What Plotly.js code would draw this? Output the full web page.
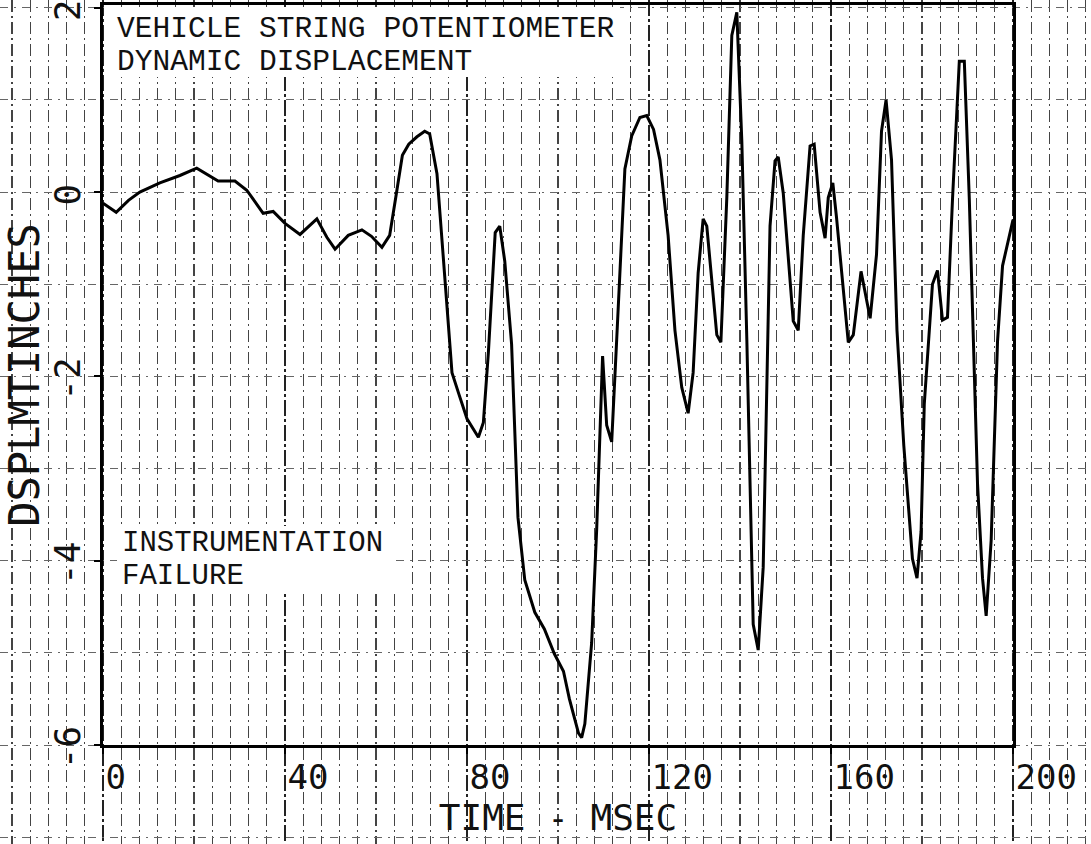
<!DOCTYPE html>
<html>
<head>
<meta charset="utf-8">
<script src="https://cdn.plot.ly/plotly-3.0.1.min.js"></script>
<style>html,body{margin:0;padding:0;background:#fff;}#chart{width:1091px;height:844px;}</style>
</head>
<body>
<div id="chart"></div>
<script>
// ---- data ----
const timeMs = [0, 2.9, 5.6, 8.1, 12.5, 16.9, 20.6, 23.5, 25.3, 29.0, 31.6, 35.2, 37.4, 40.0, 43.3, 47.0, 49.2, 51.0, 53.9, 56.9, 59.0, 61.3,
  63.0, 64.4, 65.8, 67.2, 69.0, 70.7, 71.8, 73.4, 75.2, 76.7, 78.2, 80.0, 82.5, 83.6, 84.7, 86.2, 87.2, 88.3, 89.8, 91.2, 92.7, 94.9, 97.0, 99.2,
  101.2, 102.5, 104.5, 105.2, 105.9, 107.4, 108.5, 109.8, 110.7, 111.8, 112.9, 114.0, 114.7, 116.2, 118.0, 119.5, 121.0, 122.4, 124.2, 125.7,
  127.2, 128.6, 129.7, 130.8, 131.9, 132.7, 134.1, 134.9, 135.8, 137.1, 138.2, 139.3, 140.4, 141.5, 142.9, 144.0, 145.1, 145.9, 146.6, 147.7,
  148.4, 149.5, 151.0, 151.7, 152.8, 153.9, 155.4, 156.3, 157.6, 158.7, 159.4, 160.4, 161.2, 162.7, 163.8, 164.9, 166.6, 168.6, 170.0, 171.1,
  172.1, 173.3, 174.5, 176.0, 177.3, 177.9, 178.9, 179.8, 180.5, 182.3, 183.4, 184.5, 185.6, 186.7, 188.2, 189.3, 190.4, 192.2, 193.3, 194.1,
  195.2, 196.6, 197.7, 200.0];
const displacementIn = [-0.12, -0.22, -0.09, 0.0, 0.10, 0.18, 0.26, 0.17, 0.12, 0.12, 0.02, -0.23, -0.21, -0.34, -0.46, -0.29, -0.49, -0.62, -0.47, -0.41, -0.48, -0.60,
  -0.47, -0.04, 0.40, 0.52, 0.60, 0.66, 0.63, 0.20, -1.00, -1.96, -2.19, -2.46, -2.66, -2.50, -1.74, -0.44, -0.37, -0.75, -1.65, -3.53, -4.21, -4.56, -4.74, -5.01,
  -5.20, -5.50, -5.87, -5.92, -5.77, -4.89, -3.66, -1.78, -2.53, -2.71, -1.60, -0.42, 0.25, 0.61, 0.81, 0.83, 0.68, 0.35, -0.47, -1.50,
  -2.12, -2.40, -1.96, -0.88, -0.29, -0.37, -1.14, -1.55, -1.63, -0.06, 1.70, 1.95, 0.55, -1.60, -4.69, -4.97, -4.07, -1.86, -0.37, 0.34,
  0.38, -0.01, -0.99, -1.40, -1.50, -0.47, 0.50, 0.52, -0.22, -0.50, -0.06, 0.10, -0.27, -1.09, -1.63, -1.55, -0.86, -1.37, -0.68, 0.66,
  1.00, 0.35, -1.50, -2.75, -3.67, -3.98, -4.19, -3.68, -2.30, -1.00, -0.85, -1.39, -1.36, -0.08, 1.42, 1.42, -0.08, -3.16, -4.19, -4.60,
  -3.78, -1.62, -0.80, -0.30];
const xTickVals = [0, 40, 80, 120, 160, 200];
const xTickText = ['0', '40', '80', '120', '160', '200'];
const yTickVals = [-6, -4, -2, 0, 2];
const yTickText = ['-6', '-4', '-2', '0', '2'];
const xRange = [0, 200];
const yRange = [-6, 2.03];

// ---- layout geometry (page pixels) ----
const W = 1091, H = 844;
const L = 103, R = 1013, T = 5, B = 745;
const pxX = (R - L) / (xRange[1] - xRange[0]);
const pxY = (B - T) / (yRange[1] - yRange[0]);
const px = v => v / W, py = v => 1 - v / H;

const mono = 'DejaVu Sans Mono, Liberation Mono, monospace';
const typew = 'Liberation Mono, Courier New, DejaVu Sans Mono, monospace';

const traces = [
  { // full-page graph-paper grid holder
    x: [xRange[0]], y: [yRange[0]], xaxis: 'x', yaxis: 'y', mode: 'markers',
    marker: { opacity: 0 }, hoverinfo: 'skip', showlegend: false
  },
  {
    x: timeMs, y: displacementIn, xaxis: 'x2', yaxis: 'y2', mode: 'lines',
    line: { color: '#000', width: 3 }, showlegend: false
  }
];

const layout = {
  width: W, height: H,
  margin: { l: 0, r: 0, t: 0, b: 0 },
  paper_bgcolor: '#fff', plot_bgcolor: 'rgba(0,0,0,0)',
  showlegend: false,
  xaxis: {
    domain: [0, 1],
    range: [xRange[0] - L / pxX, xRange[1] + (W - R) / pxX],
    showticklabels: false, ticks: '', zeroline: false, showline: false,
    tick0: 0, dtick: 40, showgrid: true, gridcolor: '#222', gridwidth: 1.4, griddash: '16px,3px,3px,3px',
    minor: { tick0: 0, dtick: 4, showgrid: true, gridcolor: '#444', gridwidth: 1.1, griddash: '12px,4px,2px,4px' },
    fixedrange: true
  },
  yaxis: {
    domain: [0, 1],
    range: [yRange[0] - (H - B) / pxY, yRange[1] + T / pxY],
    showticklabels: false, ticks: '', zeroline: false, showline: false,
    tick0: 0, dtick: 1, showgrid: true, gridcolor: '#666', gridwidth: 1, griddash: '8px,6px,2px,6px',
    fixedrange: true
  },
  xaxis2: {
    domain: [px(L), px(R)], anchor: 'y2', range: xRange,
    showgrid: false, zeroline: false,
    showline: true, linecolor: '#000', linewidth: 3, mirror: true,
    ticks: 'outside', ticklen: 6, tickcolor: '#000', tickwidth: 2,
    tickvals: xTickVals, ticktext: xTickText,
    ticklabelposition: 'outside right', ticklabelstandoff: 0,
    tickfont: { family: mono, size: 34, color: '#111' },
    title: { text: 'TIME - MSEC', font: { family: mono, size: 36, color: '#111' }, standoff: 10 },
    fixedrange: true
  },
  yaxis2: {
    domain: [1 - B / H, 1 - T / H], anchor: 'x2', range: yRange,
    showgrid: false, zeroline: false,
    showline: true, linecolor: '#000', linewidth: 3, mirror: true,
    ticks: 'outside', ticklen: 6, tickcolor: '#000', tickwidth: 2,
    tickvals: yTickVals, ticktext: yTickText, tickangle: -90,
    ticklabelstandoff: 0, ticklabelshift: 8, ticklabeloverflow: 'allow',
    tickfont: { family: mono, size: 36, color: '#111' },
    title: { text: 'DSPLMTINCHES', font: { family: mono, size: 42, color: '#111' }, standoff: 10 },
    fixedrange: true
  },
  shapes: [
    { type: 'rect', xref: 'paper', yref: 'paper', x0: px(L + 2), x1: px(620), y0: py(77), y1: py(T + 2),
      fillcolor: '#fff', line: { width: 0 }, layer: 'above' },
    { type: 'rect', xref: 'paper', yref: 'paper', x0: px(117), x1: px(396), y0: py(594), y1: py(526),
      fillcolor: '#fff', line: { width: 0 }, layer: 'above' }
  ],
  annotations: [
    { text: 'VEHICLE STRING POTENTIOMETER', xref: 'paper', yref: 'paper', x: px(115), y: py(28.5),
      xanchor: 'left', yanchor: 'middle', showarrow: false, font: { family: typew, size: 29.6, color: '#111' } },
    { text: 'DYNAMIC DISPLACEMENT', xref: 'paper', yref: 'paper', x: px(115), y: py(62),
      xanchor: 'left', yanchor: 'middle', showarrow: false, font: { family: typew, size: 29.6, color: '#111' } },
    { text: 'INSTRUMENTATION', xref: 'paper', yref: 'paper', x: px(120), y: py(543),
      xanchor: 'left', yanchor: 'middle', showarrow: false, font: { family: typew, size: 29, color: '#111' } },
    { text: 'FAILURE', xref: 'paper', yref: 'paper', x: px(120), y: py(576.5),
      xanchor: 'left', yanchor: 'middle', showarrow: false, font: { family: typew, size: 29, color: '#111' } }
  ]
};

Plotly.newPlot('chart', traces, layout, { staticPlot: true, displayModeBar: false });
</script>
</body>
</html>
